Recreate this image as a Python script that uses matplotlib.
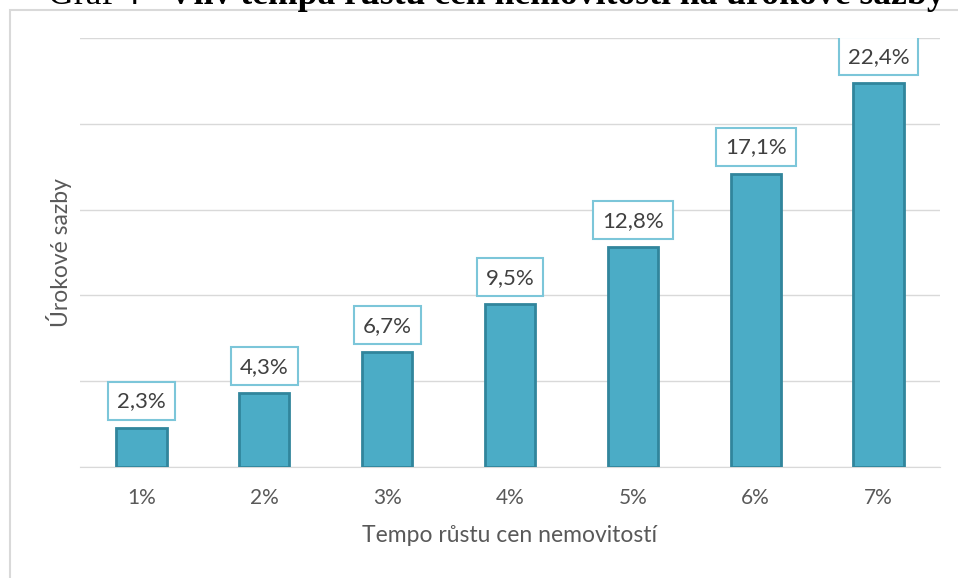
import matplotlib.pyplot as plt
from matplotlib.patches import Rectangle

categories = ['1%', '2%', '3%', '4%', '5%', '6%', '7%']
rates = [2.3, 4.3, 6.7, 9.5, 12.8, 17.1, 22.4]
labels = ['2,3%', '4,3%', '6,7%', '9,5%', '12,8%', '17,1%', '22,4%']

plt.rcParams['font.family'] = ['Lato', 'DejaVu Sans']
grey = '#595959'
W, H = 958, 578

fig = plt.figure(figsize=(9.58, 5.78), dpi=100)

# chart frame (cut at right/bottom)
fig.patches.append(Rectangle((9.5/W, -0.05), 1.0, (H-10)/H + 0.05,
                             transform=fig.transFigure, fill=False,
                             edgecolor='#d9d9d9', lw=1.5))

# title, cut off at the top edge; size fitted to the visible width
base_y = (H - 4) / H
t2 = fig.text(168/W, base_y, 'Vliv tempa růstu cen nemovitostí na úrokové sazby',
              ha='left', va='baseline', family='Liberation Serif', fontsize=22,
              fontweight='bold', color='black')
r = fig.canvas.get_renderer()
w = t2.get_window_extent(r).width
fs = 22 * 777 / w
t2.set_fontsize(fs)
fig.text(166/W, base_y, 'Graf 4 –', ha='right', va='baseline',
         family='Liberation Serif', fontsize=fs, color='black')

ax = fig.add_axes([80/W, 111/H, 860/W, 429/H])
x = range(len(categories))
bars = ax.bar(x, rates, width=0.41, color='#4BACC6', edgecolor='#31859C', lw=2, zorder=3)

texts = []
for b, lab in zip(bars, labels):
    t = ax.annotate(lab, (b.get_x() + b.get_width()/2, b.get_height()),
                    xytext=(0, 11.5), textcoords='offset points', ha='center', va='bottom',
                    fontsize=16, color='#404040', zorder=5)
    texts.append(t)

ax.set_xlim(-0.5, 6.5)
ax.set_ylim(0, 25)
ax.set_yticks([0, 5, 10, 15, 20, 25])
ax.set_yticklabels([])
ax.tick_params(axis='y', length=0)
ax.tick_params(axis='x', length=0, labelsize=15, labelcolor=grey, pad=15)
ax.set_xticks(list(x))
ax.set_xticklabels(categories)
ax.grid(axis='y', color='#d9d9d9', lw=1, zorder=0)
for s in ['top', 'right', 'left']:
    ax.spines[s].set_visible(False)
ax.spines['bottom'].set_color('#d9d9d9')

ax.set_xlabel('Tempo růstu cen nemovitostí', fontsize=16.5, color=grey, labelpad=12)
ax.set_ylabel('Úrokové sazby', fontsize=16.5, color=grey, labelpad=2)

# label boxes sized around the rendered text
padx, pady = 9, 10
for t in texts:
    e = t.get_window_extent(r)
    ax.add_patch(Rectangle(((e.x0 - padx)/W, (e.y0 - pady + 2)/H),
                           (e.width + 2*padx)/W, (e.height + 2*pady - 2)/H,
                           transform=fig.transFigure, fc='white', ec='#7cc6d9',
                           lw=1.5, zorder=4))

fig.savefig('out.png', dpi=100)
